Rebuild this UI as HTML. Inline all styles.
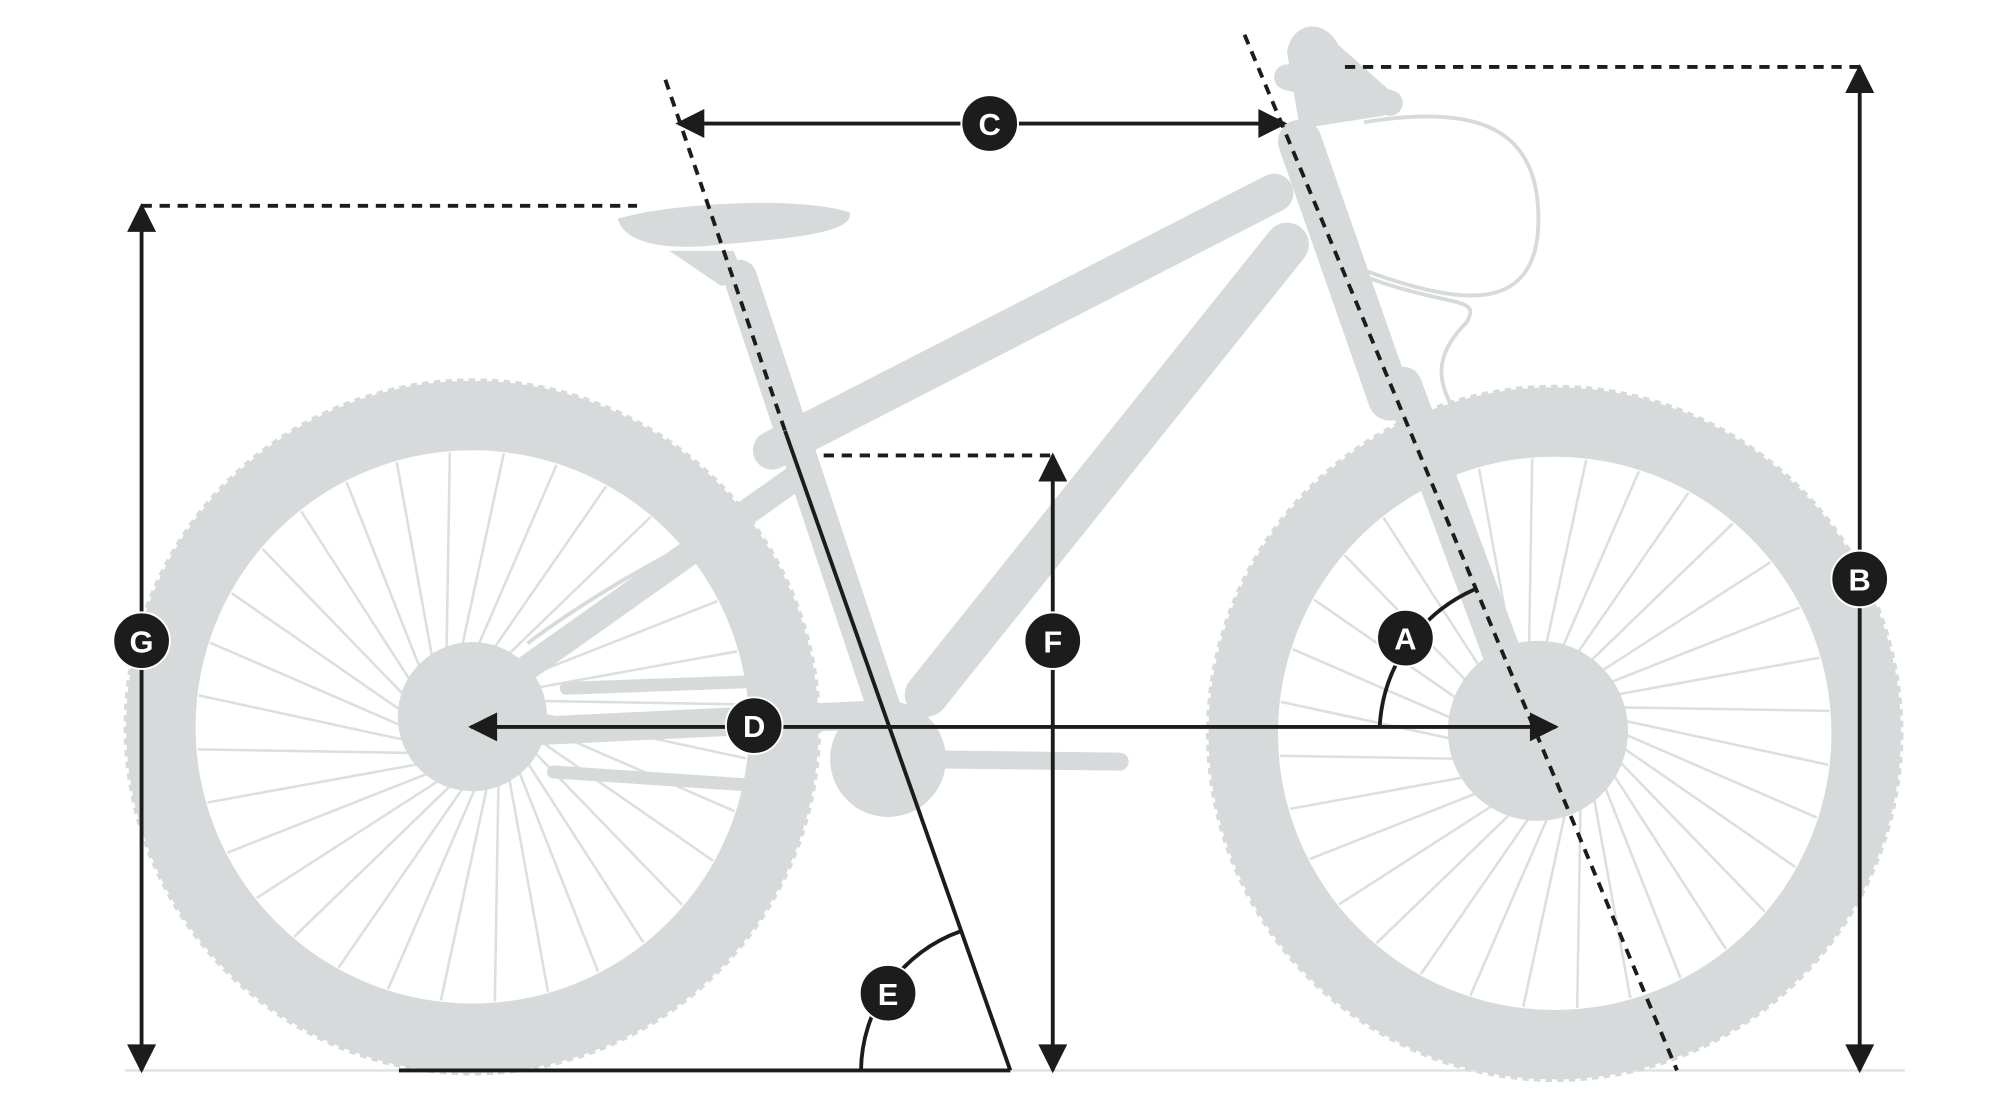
<!DOCTYPE html>
<html><head><meta charset="utf-8">
<style>html,body{margin:0;padding:0;background:#fff;width:2000px;height:1100px;overflow:hidden}</style>
</head><body>
<svg id="s" width="2000" height="1100" viewBox="0 0 1554 855" preserveAspectRatio="none" xmlns="http://www.w3.org/2000/svg">
<defs>
<marker id="ah" viewBox="0 0 10 10" refX="9" refY="5" markerWidth="8" markerHeight="7.5" orient="auto-start-reverse" markerUnits="strokeWidth"><path d="M0,0 L10,5 L0,10 z" fill="#1c1c1c"/></marker>
</defs>
<g id="bike" fill="#d7dadb" stroke="none">
<line x1="97" y1="832" x2="1480" y2="832" stroke="#e2e4e4" stroke-width="2"/>
<circle cx="367" cy="565" r="242" fill="none" stroke="#d7dadb" stroke-width="54"/>
<circle cx="367" cy="565" r="268" fill="none" stroke="#d7dadb" stroke-width="6" stroke-dasharray="5 4"/>
<g id="rs" stroke="#dcdfe0" stroke-width="2"></g>
<circle cx="367" cy="557" r="58"/>
<circle cx="1208" cy="570" r="242" fill="none" stroke="#d7dadb" stroke-width="54"/>
<circle cx="1208" cy="570" r="268" fill="none" stroke="#d7dadb" stroke-width="6" stroke-dasharray="5 4"/>
<g id="fs" stroke="#dcdfe0" stroke-width="2"></g>
<circle cx="1195" cy="568" r="70"/>
<g stroke="#d7dadb" stroke-linecap="round" fill="none">
<line x1="600" y1="350" x2="990" y2="150" stroke-width="30"/>
<line x1="1000" y1="190" x2="720" y2="540" stroke-width="34"/>
<line x1="575" y1="215" x2="690" y2="560" stroke-width="26"/>
<line x1="620" y1="370" x2="380" y2="540" stroke-width="20"/>
<line x1="690" y1="555" x2="380" y2="570" stroke-width="22"/>
<line x1="1010" y1="110" x2="1080" y2="310" stroke-width="34"/>
<line x1="1090" y1="300" x2="1190" y2="570" stroke-width="30"/>
<line x1="1000" y1="60" x2="1080" y2="80" stroke-width="20"/>
<line x1="440" y1="535" x2="580" y2="530" stroke-width="10"/>
<line x1="430" y1="600" x2="580" y2="610" stroke-width="10"/>
<line x1="700" y1="590" x2="870" y2="592" stroke-width="14"/>
</g>
<g fill="none" stroke="#d7dadb" stroke-width="3">
<path d="M1060,95 C1150,80 1200,100 1195,180 C1190,240 1140,240 1060,210"/>
<path d="M1060,215 C1130,240 1150,230 1140,250 C1110,280 1120,300 1130,320"/>
<path d="M410,500 C450,470 500,440 560,410"/>
</g>
<circle cx="690" cy="590" r="45"/>
<path d="M480,170 C520,158 620,152 660,165 C665,180 620,185 560,190 C520,195 485,190 480,170 z"/>
<path d="M520,195 L570,195 L580,220 L560,222 z"/>
<path d="M1000,40 C1005,15 1030,15 1040,35 L1085,75 L1075,90 L1010,100 z"/>
</g>
<g stroke="#1c1c1c" fill="none">
<g stroke-width="3" stroke-dasharray="8 6">
<line x1="110" y1="160" x2="495" y2="160"/>
<line x1="1045" y1="52" x2="1445" y2="52"/>
<line x1="640" y1="354" x2="818" y2="354"/>
<line x1="517" y1="62" x2="610" y2="335"/>
<line x1="967" y1="27" x2="1303" y2="832"/>
</g>
<g stroke-width="3">
<line x1="110" y1="160" x2="110" y2="832" marker-start="url(#ah)" marker-end="url(#ah)"/>
<line x1="1445" y1="52" x2="1445" y2="832" marker-start="url(#ah)" marker-end="url(#ah)"/>
<line x1="818" y1="354" x2="818" y2="832" marker-start="url(#ah)" marker-end="url(#ah)"/>
<line x1="527" y1="96" x2="998" y2="96" marker-start="url(#ah)" marker-end="url(#ah)"/>
<line x1="366" y1="565" x2="1209" y2="565" marker-start="url(#ah)" marker-end="url(#ah)"/>
<line x1="610" y1="335" x2="785" y2="832"/>
<line x1="310" y1="832" x2="785" y2="832"/>
<path d="M669,832 A116,116 0 0 1 746,724"/>
<path d="M1072,565 A124,124 0 0 1 1146,458"/>
</g>
</g>
<g fill="#1c1c1c" stroke="#fff" stroke-width="1.5">
<circle cx="110" cy="498" r="22"/><circle cx="769" cy="96" r="22"/><circle cx="1445" cy="450" r="22"/>
<circle cx="818" cy="498" r="22"/><circle cx="586" cy="564" r="22"/><circle cx="1092" cy="496" r="22"/>
<circle cx="690" cy="772" r="22"/>
</g>
<g fill="#fff" font-family="Liberation Sans, sans-serif" font-weight="bold" font-size="24" text-anchor="middle">
<text x="110" y="507">G</text><text x="769" y="105">C</text><text x="1445" y="459">B</text>
<text x="818" y="507">F</text><text x="586" y="573">D</text><text x="1092" y="505">A</text><text x="690" y="781">E</text>
</g>
</svg>
<script>
function sp(id,cx,cy){var g=document.getElementById(id),h='';for(var i=0;i<32;i++){var a=i*Math.PI/16,b=a+0.9;
h+='<line x1="'+(cx+25*Math.cos(a))+'" y1="'+(cy+25*Math.sin(a))+'" x2="'+(cx+214*Math.cos(b))+'" y2="'+(cy+214*Math.sin(b))+'"/>';}g.innerHTML=h;}
sp('rs',367,565);sp('fs',1208,570);
</script>
</body></html>
